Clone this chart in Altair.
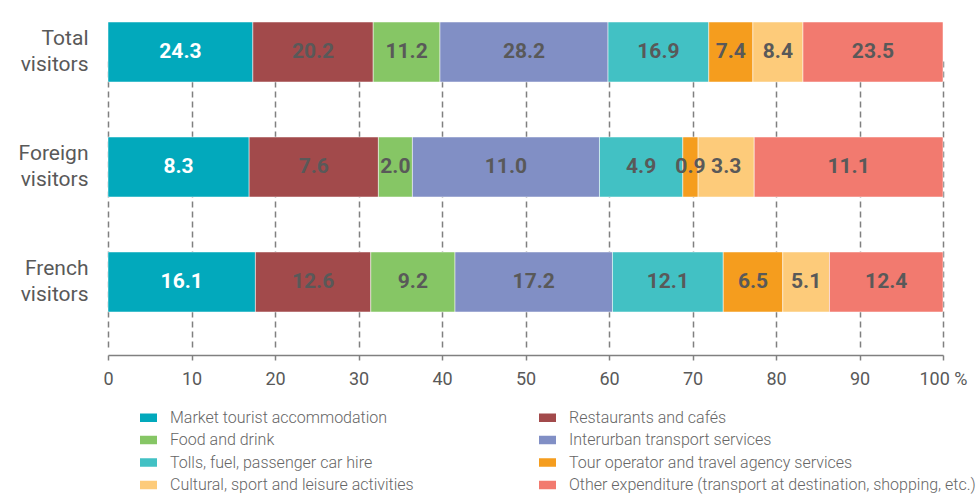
import altair as alt
import pandas as pd

groups = ["Total visitors", "Foreign visitors", "French visitors"]
categories = [
    "Market tourist accommodation",
    "Restaurants and cafés",
    "Food and drink",
    "Interurban transport services",
    "Tolls, fuel, passenger car hire",
    "Tour operator and travel agency services",
    "Cultural, sport and leisure activities",
    "Other expenditure (transport at destination, shopping, etc.)",
]
colors = ["#02A9BC", "#A24A4B", "#86C665", "#818FC5", "#42C1C4", "#F59D1E", "#FDCB7A", "#F27A6F"]

total_values = [24.3, 20.2, 11.2, 28.2, 16.9, 7.4, 8.4, 23.5]
foreign_values = [8.3, 7.6, 2.0, 11.0, 4.9, 0.9, 3.3, 11.1]
french_values = [16.1, 12.6, 9.2, 17.2, 12.1, 6.5, 5.1, 12.4]

x_ticks = [0, 10, 20, 30, 40, 50, 60, 70, 80, 90, 100]

rows = []
for g, vals in zip(groups, [total_values, foreign_values, french_values]):
    for i, (c, v) in enumerate(zip(categories, vals)):
        rows.append({"group": g, "category": c, "value": v, "order": i})
df = pd.DataFrame(rows)

FONT = "Roboto"
GRAY = "#595959"

base = (
    alt.Chart(df)
    .transform_joinaggregate(tot="sum(value)", groupby=["group"])
    .transform_calculate(pct="datum.value / datum.tot * 100")
    .transform_stack(stack="pct", groupby=["group"], sort=[alt.SortField("order")], as_=["x0", "x1"])
    .transform_calculate(mid="(datum.x0 + datum.x1) / 2")
)

y_enc = alt.Y(
    "group:N",
    sort=groups,
    scale=alt.Scale(range=[8, 298], paddingInner=0.478, paddingOuter=0),
    axis=alt.Axis(
        title=None, domain=False, ticks=False, grid=False,
        labelExpr="split(datum.label, ' ')",
        labelFont=FONT, labelFontSize=21, labelColor=GRAY, labelPadding=20,
        labelLineHeight=26, labelOffset=-13,
    ),
)

x_axis = alt.Axis(
    title=None, values=x_ticks, grid=True, gridDash=[6, 4], gridColor="#808080", gridWidth=1.5,
    domainColor="#808080", domainWidth=1.5, tickColor="#808080", tickWidth=1.5, tickSize=5,
    labelExpr="datum.value == 100 ? '100 %' : datum.label", labelFlush=False,
    labelFont=FONT, labelFontSize=18, labelColor=GRAY, labelPadding=10,
)

bars = base.mark_bar(stroke="white", strokeWidth=0.5).encode(
    y=y_enc,
    x=alt.X("x0:Q", scale=alt.Scale(domain=[0, 100], nice=False), axis=x_axis),
    x2="x1:Q",
    color=alt.Color(
        "category:N",
        sort=categories,
        scale=alt.Scale(domain=categories, range=colors),
        legend=alt.Legend(
            title=None, orient="none", legendX=32, legendY=395, columns=2,
            direction="horizontal",
            columnPadding=125, rowPadding=5.5, padding=0,
            symbolType="M-1,-0.5H1V0.5H-1Z", symbolSize=289, symbolStrokeWidth=0,
            symbolOpacity=1, labelOffset=13,
            labelFont=FONT, labelFontSize=16, labelFontWeight=300, labelColor="#666666",
            labelLimit=500,
        ),
    ),
)

labels = base.mark_text(font=FONT, fontSize=21, fontWeight="bold").encode(
    y=alt.Y("group:N", sort=groups),
    x=alt.X("mid:Q"),
    text=alt.Text("value:Q", format=".1f"),
    color=alt.condition(alt.datum.order == 0, alt.value("white"), alt.value(GRAY)),
)

chart = (
    alt.layer(bars, labels)
    .properties(
        width=835, height=341,
        padding={"left": 108, "top": 14, "right": 33, "bottom": 141},
        autosize=alt.AutoSizeParams(type="none"),
    )
    .configure_view(stroke=None)
)

chart.save("out.html", embed_options={"renderer": "svg", "actions": False})
